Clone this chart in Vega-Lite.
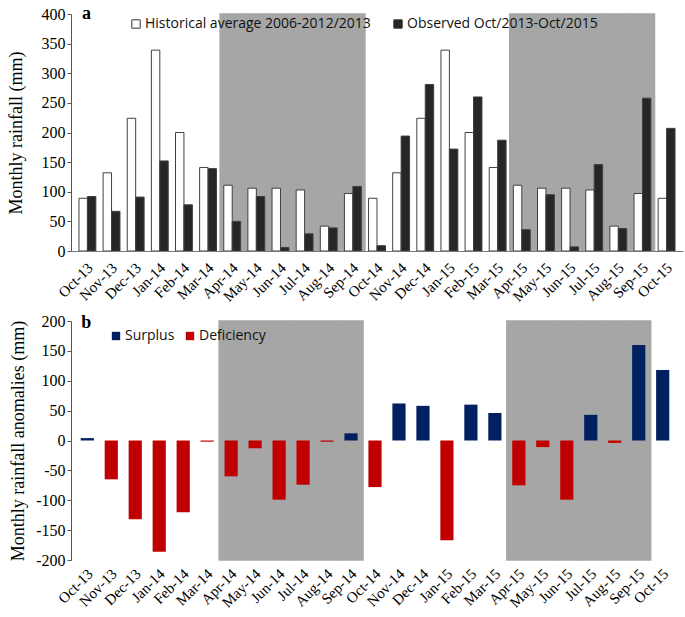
{
  "$schema": "https://vega.github.io/schema/vega-lite/v6.json",
  "padding": {"left": 7, "top": 5, "right": 2, "bottom": 5},
  "background": "white",
  "spacing": 8,
  "config": {
    "view": {"stroke": null},
    "axis": {"labelFont": "Liberation Serif", "titleFont": "Liberation Serif", "labelColor": "black", "titleColor": "black", "labelFontSize": 16, "titleFontSize": 18, "titleFontWeight": "normal", "domainColor": "#555555", "tickColor": "#555555", "grid": false, "labelOverlap": false},
    "legend": {"labelFont": "Open Sans", "labelFontSize": 14, "labelColor": "#111111", "labelLimit": 400}
  },
  "datasets": {
    "rain": [
      {"month": "Oct-13", "series": "Historical average 2006-2012/2013", "value": 89},
      {"month": "Nov-13", "series": "Historical average 2006-2012/2013", "value": 132},
      {"month": "Dec-13", "series": "Historical average 2006-2012/2013", "value": 224},
      {"month": "Jan-14", "series": "Historical average 2006-2012/2013", "value": 339},
      {"month": "Feb-14", "series": "Historical average 2006-2012/2013", "value": 200},
      {"month": "Mar-14", "series": "Historical average 2006-2012/2013", "value": 141},
      {"month": "Apr-14", "series": "Historical average 2006-2012/2013", "value": 111},
      {"month": "May-14", "series": "Historical average 2006-2012/2013", "value": 106},
      {"month": "Jun-14", "series": "Historical average 2006-2012/2013", "value": 106},
      {"month": "Jul-14", "series": "Historical average 2006-2012/2013", "value": 103},
      {"month": "Aug-14", "series": "Historical average 2006-2012/2013", "value": 42},
      {"month": "Sep-14", "series": "Historical average 2006-2012/2013", "value": 97},
      {"month": "Oct-14", "series": "Historical average 2006-2012/2013", "value": 89},
      {"month": "Nov-14", "series": "Historical average 2006-2012/2013", "value": 132},
      {"month": "Dec-14", "series": "Historical average 2006-2012/2013", "value": 224},
      {"month": "Jan-15", "series": "Historical average 2006-2012/2013", "value": 339},
      {"month": "Feb-15", "series": "Historical average 2006-2012/2013", "value": 200},
      {"month": "Mar-15", "series": "Historical average 2006-2012/2013", "value": 141},
      {"month": "Apr-15", "series": "Historical average 2006-2012/2013", "value": 111},
      {"month": "May-15", "series": "Historical average 2006-2012/2013", "value": 106},
      {"month": "Jun-15", "series": "Historical average 2006-2012/2013", "value": 106},
      {"month": "Jul-15", "series": "Historical average 2006-2012/2013", "value": 103},
      {"month": "Aug-15", "series": "Historical average 2006-2012/2013", "value": 42},
      {"month": "Sep-15", "series": "Historical average 2006-2012/2013", "value": 97},
      {"month": "Oct-15", "series": "Historical average 2006-2012/2013", "value": 89},
      {"month": "Oct-13", "series": "Observed Oct/2013-Oct/2015", "value": 92},
      {"month": "Nov-13", "series": "Observed Oct/2013-Oct/2015", "value": 67},
      {"month": "Dec-13", "series": "Observed Oct/2013-Oct/2015", "value": 91},
      {"month": "Jan-14", "series": "Observed Oct/2013-Oct/2015", "value": 152},
      {"month": "Feb-14", "series": "Observed Oct/2013-Oct/2015", "value": 78},
      {"month": "Mar-14", "series": "Observed Oct/2013-Oct/2015", "value": 139},
      {"month": "Apr-14", "series": "Observed Oct/2013-Oct/2015", "value": 50},
      {"month": "May-14", "series": "Observed Oct/2013-Oct/2015", "value": 92},
      {"month": "Jun-14", "series": "Observed Oct/2013-Oct/2015", "value": 6},
      {"month": "Jul-14", "series": "Observed Oct/2013-Oct/2015", "value": 29},
      {"month": "Aug-14", "series": "Observed Oct/2013-Oct/2015", "value": 39},
      {"month": "Sep-14", "series": "Observed Oct/2013-Oct/2015", "value": 109},
      {"month": "Oct-14", "series": "Observed Oct/2013-Oct/2015", "value": 9},
      {"month": "Nov-14", "series": "Observed Oct/2013-Oct/2015", "value": 194},
      {"month": "Dec-14", "series": "Observed Oct/2013-Oct/2015", "value": 281},
      {"month": "Jan-15", "series": "Observed Oct/2013-Oct/2015", "value": 172},
      {"month": "Feb-15", "series": "Observed Oct/2013-Oct/2015", "value": 260},
      {"month": "Mar-15", "series": "Observed Oct/2013-Oct/2015", "value": 187},
      {"month": "Apr-15", "series": "Observed Oct/2013-Oct/2015", "value": 36},
      {"month": "May-15", "series": "Observed Oct/2013-Oct/2015", "value": 95},
      {"month": "Jun-15", "series": "Observed Oct/2013-Oct/2015", "value": 7},
      {"month": "Jul-15", "series": "Observed Oct/2013-Oct/2015", "value": 146},
      {"month": "Aug-15", "series": "Observed Oct/2013-Oct/2015", "value": 38},
      {"month": "Sep-15", "series": "Observed Oct/2013-Oct/2015", "value": 258},
      {"month": "Oct-15", "series": "Observed Oct/2013-Oct/2015", "value": 207}
    ],
    "anom": [
      {"month": "Oct-13", "type": "Surplus", "value": 4},
      {"month": "Nov-13", "type": "Deficiency", "value": -65},
      {"month": "Dec-13", "type": "Deficiency", "value": -132},
      {"month": "Jan-14", "type": "Deficiency", "value": -186},
      {"month": "Feb-14", "type": "Deficiency", "value": -120},
      {"month": "Mar-14", "type": "Deficiency", "value": -2},
      {"month": "Apr-14", "type": "Deficiency", "value": -60},
      {"month": "May-14", "type": "Deficiency", "value": -13},
      {"month": "Jun-14", "type": "Deficiency", "value": -99},
      {"month": "Jul-14", "type": "Deficiency", "value": -74},
      {"month": "Aug-14", "type": "Deficiency", "value": -2},
      {"month": "Sep-14", "type": "Surplus", "value": 12},
      {"month": "Oct-14", "type": "Deficiency", "value": -78},
      {"month": "Nov-14", "type": "Surplus", "value": 62},
      {"month": "Dec-14", "type": "Surplus", "value": 58},
      {"month": "Jan-15", "type": "Deficiency", "value": -167},
      {"month": "Feb-15", "type": "Surplus", "value": 60},
      {"month": "Mar-15", "type": "Surplus", "value": 46},
      {"month": "Apr-15", "type": "Deficiency", "value": -75},
      {"month": "May-15", "type": "Deficiency", "value": -11},
      {"month": "Jun-15", "type": "Deficiency", "value": -99},
      {"month": "Jul-15", "type": "Surplus", "value": 43},
      {"month": "Aug-15", "type": "Deficiency", "value": -4},
      {"month": "Sep-15", "type": "Surplus", "value": 160},
      {"month": "Oct-15", "type": "Surplus", "value": 118}
    ],
    "shade": [
      {"month": "Apr-14"}, {"month": "May-14"}, {"month": "Jun-14"}, {"month": "Jul-14"}, {"month": "Aug-14"}, {"month": "Sep-14"},
      {"month": "Apr-15"}, {"month": "May-15"}, {"month": "Jun-15"}, {"month": "Jul-15"}, {"month": "Aug-15"}, {"month": "Sep-15"}
    ],
    "labA": [{"label": "a"}],
    "labB": [{"label": "b"}]
  },
  "vconcat": [
    {
      "width": 612,
      "height": 237,
      "encoding": {
        "x": {"field": "month", "type": "nominal", "title": null,
          "scale": {"domain": ["Oct-13","Nov-13","Dec-13","Jan-14","Feb-14","Mar-14","Apr-14","May-14","Jun-14","Jul-14","Aug-14","Sep-14","Oct-14","Nov-14","Dec-14","Jan-15","Feb-15","Mar-15","Apr-15","May-15","Jun-15","Jul-15","Aug-15","Sep-15","Oct-15"], "paddingInner": 0, "paddingOuter": 0.18},
          "axis": {"labelAngle": -45, "labelFontSize": 15, "ticks": false, "labelPadding": 9, "labelOffset": -2, "domainColor": "#777777"}}
      },
      "layer": [
        {
          "data": {"name": "shade"},
          "mark": {"type": "rect", "color": "#a6a6a6", "stroke": "#a6a6a6", "strokeWidth": 1.5},
          "encoding": {}
        },
        {
          "data": {"name": "rain"},
          "mark": {"type": "bar", "stroke": "#404040", "strokeWidth": 1},
          "encoding": {
            "xOffset": {"field": "series", "type": "nominal", "scale": {"paddingInner": 0, "paddingOuter": 0.43}},
            "y": {"field": "value", "type": "quantitative", "title": "Monthly rainfall (mm)",
              "scale": {"domain": [0, 400], "nice": false},
              "axis": {"values": [0,50,100,150,200,250,300,350,400], "labelOverlap": false, "tickSize": 4, "labelPadding": 2, "titlePadding": 16}},
            "fill": {"field": "series", "type": "nominal",
              "scale": {"domain": ["Historical average 2006-2012/2013", "Observed Oct/2013-Oct/2015"], "range": ["white", "#262626"]},
              "legend": {"title": null, "orient": "none", "legendX": 58, "legendY": 3, "direction": "horizontal", "symbolType": "square", "symbolSize": 70, "symbolStrokeColor": "#333333", "symbolStrokeWidth": 1, "columnPadding": 20, "labelOffset": 2}}
          }
        },
        {
          "data": {"name": "labA"},
          "mark": {"type": "text", "font": "Liberation Serif", "fontWeight": "bold", "fontSize": 18, "baseline": "middle", "align": "center", "dx": -1},
          "encoding": {"x": {"datum": "Oct-13"}, "y": {"datum": 400, "type": "quantitative", "title": "Monthly rainfall (mm)", "axis": {"values": [0,50,100,150,200,250,300,350,400], "labelOverlap": false, "tickSize": 4, "labelPadding": 2, "titlePadding": 16}}, "text": {"field": "label"}}
        }
      ]
    },
    {
      "width": 608,
      "height": 239,
      "encoding": {
        "x": {"field": "month", "type": "nominal", "title": null,
          "scale": {"domain": ["Oct-13","Nov-13","Dec-13","Jan-14","Feb-14","Mar-14","Apr-14","May-14","Jun-14","Jul-14","Aug-14","Sep-14","Oct-14","Nov-14","Dec-14","Jan-15","Feb-15","Mar-15","Apr-15","May-15","Jun-15","Jul-15","Aug-15","Sep-15","Oct-15"], "paddingInner": 0, "paddingOuter": 0.18},
          "axis": {"labelAngle": -45, "labelFontSize": 15, "ticks": false, "domain": false, "labelPadding": 6, "labelOffset": -2}}
      },
      "layer": [
        {
          "data": {"name": "shade"},
          "mark": {"type": "rect", "color": "#a6a6a6", "stroke": "#a6a6a6", "strokeWidth": 1.5},
          "encoding": {}
        },
        {
          "data": {"name": "anom"},
          "mark": {"type": "bar", "width": {"band": 0.55}},
          "encoding": {
            "y": {"field": "value", "type": "quantitative", "title": "Monthly rainfall anomalies (mm)",
              "scale": {"domain": [-200, 200], "nice": false},
              "axis": {"values": [-200,-150,-100,-50,0,50,100,150,200], "labelExpr": "'' + datum.value", "labelOverlap": false, "tickSize": 4, "labelPadding": 2, "titlePadding": 8}},
            "color": {"field": "type", "type": "nominal",
              "scale": {"domain": ["Surplus", "Deficiency"], "range": ["#002060", "#c00000"]},
              "legend": {"title": null, "orient": "none", "legendX": 38, "legendY": 315, "direction": "horizontal", "symbolType": "square", "symbolSize": 70, "columnPadding": 8, "labelOffset": 2}}
          }
        },
        {
          "data": {"name": "labB"},
          "mark": {"type": "rule", "color": "#777777", "strokeWidth": 1.2},
          "encoding": {"y": {"datum": 0, "type": "quantitative", "title": "Monthly rainfall anomalies (mm)", "axis": {"values": [-200,-150,-100,-50,0,50,100,150,200], "labelExpr": "'' + datum.value", "labelOverlap": false, "tickSize": 4, "labelPadding": 2, "titlePadding": 8}}}
        },
        {
          "data": {"name": "labB"},
          "mark": {"type": "text", "font": "Liberation Serif", "fontWeight": "bold", "fontSize": 18, "baseline": "middle", "align": "center", "dy": 2, "dx": -1},
          "encoding": {"x": {"datum": "Oct-13"}, "y": {"datum": 200, "type": "quantitative", "title": "Monthly rainfall anomalies (mm)", "axis": {"values": [-200,-150,-100,-50,0,50,100,150,200], "labelExpr": "'' + datum.value", "labelOverlap": false, "tickSize": 4, "labelPadding": 2, "titlePadding": 8}}, "text": {"field": "label"}}
        }
      ]
    }
  ]
}
